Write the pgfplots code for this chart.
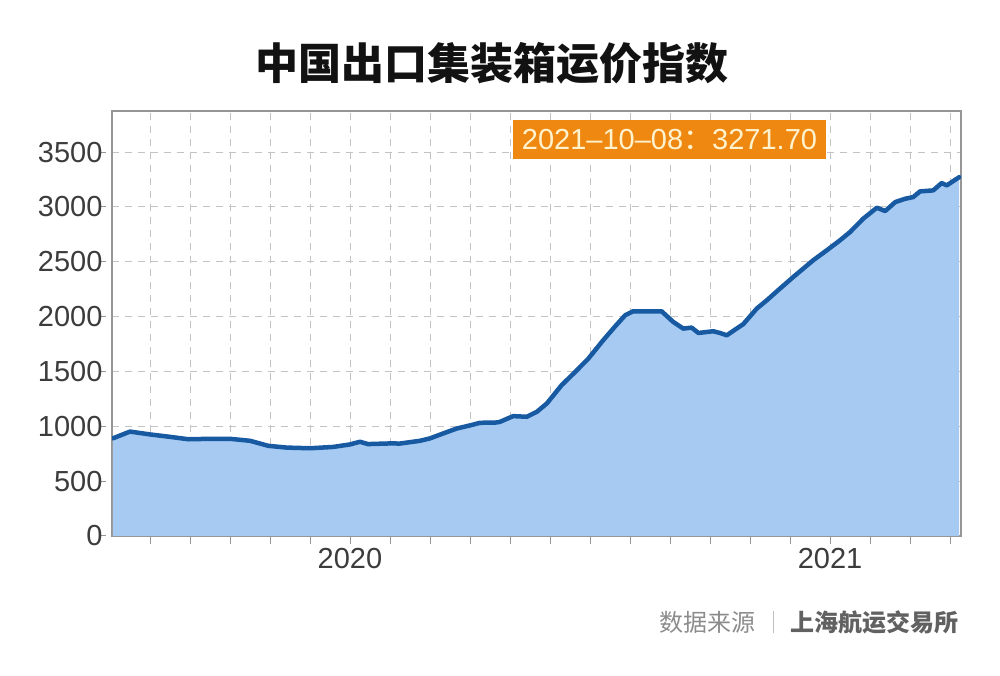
\documentclass[border=0pt]{standalone}
\usepackage{fontspec}
\usepackage{pgfplots}
\pgfplotsset{compat=1.18}
\setmainfont{Liberation Sans}
\newfontfamily\cjk{Noto Sans CJK SC}

\definecolor{lineblue}{RGB}{24,90,162}
\definecolor{fillblue}{RGB}{166,202,242}
\definecolor{tagorange}{RGB}{238,136,16}
\definecolor{tagtext}{RGB}{255,242,205}
\definecolor{gridgray}{RGB}{195,195,195}
\definecolor{framegray}{RGB}{150,150,150}
\definecolor{labelgray}{RGB}{60,60,60}

% x = months since 2020-01-01, weekly index values
\begin{document}
\begin{tikzpicture}[x=1pt,y=1pt]
\useasboundingbox (0,0) rectangle (1000,676);
\begin{axis}[
    at={(112pt,140pt)}, anchor=south west,
    scale only axis, width=849pt, height=425pt,
    xmin=0.05, xmax=21.275, ymin=0, ymax=3875,
    axis line style={framegray, line width=1.3pt},
    grid=major,
    major grid style={gridgray, line width=1pt, dash pattern=on 7pt off 6pt},
    xtick={1,...,21},
    xticklabels={,,,,,2020,,,,,,,,,,,,2021,,,},
    ytick={0,500,...,3500},
    xtick pos=bottom, ytick pos=left,
    tick align=outside,
    major tick length=12pt,
    tick style={framegray, line width=1pt},
    every x tick/.append style={dash pattern=on 0pt off 4pt on 8pt off 50pt},
    every y tick/.append style={dash pattern=on 6pt off 50pt},
    /pgf/number format/1000 sep={},
    /pgf/number format/assume math mode=true,
    ticklabel style={font=\fontsize{29}{30}\selectfont, text=labelgray},
    xticklabel style={yshift=3pt},
    yticklabel style={xshift=6pt},
]
\addplot[draw=none, fill=fillblue] coordinates {
(0.07,890) (0.5,952) (1.0,926) (1.5,904) (1.96,882) (2.5,886) (3.0,886)
(3.5,868) (3.96,822) (4.42,806) (5.0,800) (5.58,812) (6.0,835) (6.25,859)
(6.45,838) (7.0,844) (7.25,843) (7.75,868) (8.0,890) (8.33,935) (8.67,980)
(9.03,1011) (9.25,1032) (9.67,1035) (9.75,1041) (10.08,1093) (10.42,1087)
(10.67,1132) (10.92,1208) (11.29,1375) (11.63,1496) (11.96,1618) (12.33,1785)
(12.63,1912) (12.88,2013) (13.08,2049) (13.79,2049) (14.08,1952) (14.33,1891)
(14.54,1900) (14.71,1851) (15.08,1867) (15.25,1851) (15.42,1830) (15.58,1870)
(15.83,1931) (16.17,2074) (16.42,2149) (16.75,2256) (17.08,2361) (17.58,2514)
(17.92,2605) (18.25,2696) (18.5,2771) (18.83,2893) (19.17,2993) (19.38,2963)
(19.63,3044) (19.88,3075) (20.08,3090) (20.25,3142) (20.58,3151) (20.79,3218)
(20.92,3197) (21.23,3271.7)
} \closedcycle;
\addplot[lineblue, line width=4.5pt, line join=round, line cap=round] coordinates {
(0.07,890) (0.5,952) (1.0,926) (1.5,904) (1.96,882) (2.5,886) (3.0,886)
(3.5,868) (3.96,822) (4.42,806) (5.0,800) (5.58,812) (6.0,835) (6.25,859)
(6.45,838) (7.0,844) (7.25,843) (7.75,868) (8.0,890) (8.33,935) (8.67,980)
(9.03,1011) (9.25,1032) (9.67,1035) (9.75,1041) (10.08,1093) (10.42,1087)
(10.67,1132) (10.92,1208) (11.29,1375) (11.63,1496) (11.96,1618) (12.33,1785)
(12.63,1912) (12.88,2013) (13.08,2049) (13.79,2049) (14.08,1952) (14.33,1891)
(14.54,1900) (14.71,1851) (15.08,1867) (15.25,1851) (15.42,1830) (15.58,1870)
(15.83,1931) (16.17,2074) (16.42,2149) (16.75,2256) (17.08,2361) (17.58,2514)
(17.92,2605) (18.25,2696) (18.5,2771) (18.83,2893) (19.17,2993) (19.38,2963)
(19.63,3044) (19.88,3075) (20.08,3090) (20.25,3142) (20.58,3151) (20.79,3218)
(20.92,3197) (21.23,3271.7)
};
\end{axis}

% title
\node[text=black!93] at (492,613) {\cjk\bfseries\fontsize{43}{48}\selectfont 中国出口集装箱运价指数};

% latest value tag
\node[fill=tagorange, text=tagtext, minimum width=313pt, minimum height=39pt,
      inner sep=0pt] at (669.5,536.5)
  {\fontsize{29}{30}\selectfont 2021–10–08{\cjk ：}3271.70};

% source line
\node[anchor=west, text=black!45, inner sep=0pt] at (659,54)
  {\cjk\fontsize{24}{26}\selectfont 数据来源};
\draw[black!25, line width=1pt] (773,43) -- (773,65);
\node[anchor=east, text=black!62, inner sep=0pt] at (959,54)
  {\cjk\bfseries\fontsize{24}{26}\selectfont 上海航运交易所};
\end{tikzpicture}
\end{document}
